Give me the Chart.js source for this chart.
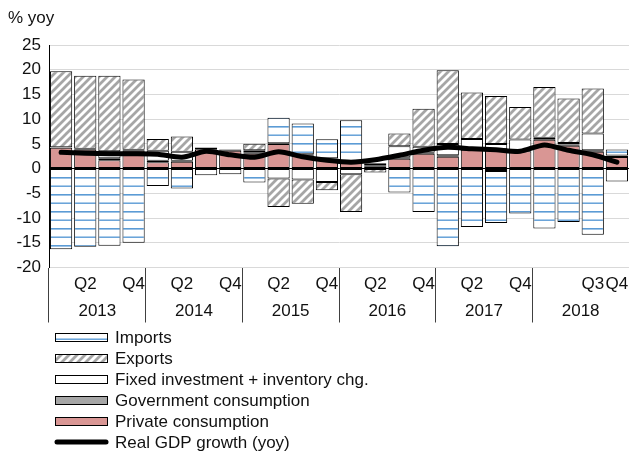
<!DOCTYPE html>
<html>
<head>
<meta charset="utf-8">
<script src="https://cdn.jsdelivr.net/npm/chart.js@4.4.1/dist/chart.umd.min.js"></script>
<style>
  html, body { margin: 0; padding: 0; background: #fff; }
  canvas { display: block; }
</style>
</head>
<body>
<canvas id="chart" width="629" height="457"></canvas>
<script>
// quarter labels (only some are shown, like the original) and year groups
const quarterLabels = ['', 'Q2', '', 'Q4', '', 'Q2', '', 'Q4', '', 'Q2', '', 'Q4',
                       '', 'Q2', '', 'Q4', '', 'Q2', '', 'Q4', '', '', 'Q3', 'Q4'];
const yearLabels = ['2013', '2014', '2015', '2016', '2017', '2018'];

// contributions to growth, % pts
const privateCons = [4.2, 3.8, 1.7, 3.6, 1.3, 1.4, 3.9, 3.6, 3.0, 5.0, 2.7, 2.0,
                     1.5, 0.5, 2.0, 3.0, 2.4, 3.8, 3.9, 3.5, 5.85, 4.6, 3.4, 2.35];
const govCons = [0.1, 0.2, 0.4, 0.2, 0.3, 0.2, 0.35, 0.25, 0.3, 0.15, 0.2, 0.1,
                 0.1, 0.2, 0.3, 0.2, 0.3, 0.2, -0.5, 0.2, 0.4, 0.3, 0.3, 0.3];
const fixedInv = [null, null, 1.4, null, 2.0, 1.8, null, null, 0.4, -2.0, -2.2, -2.7,
                  -1.15, null, 2.2, 1.2, 2.3, 2.0, 1.1, 2.2, null, 0.3, 3.4, -2.6];
const exportsC = [15.4, 14.8, 15.3, 14.2, 2.4, 3.1, null, null, 1.35, -5.75, -4.9, -1.7,
                  -7.65, -0.8, 2.6, 7.7, 14.9, 9.4, 9.7, 6.55, 10.25, 9.0, 9.1, null];
const importsC = [-16.3, -15.8, -15.6, -15.0, -3.5, -4.0, -1.35, -1.15, -2.8, 5.15, 6.2, 3.85,
                  8.2, 0.4, -4.85, -8.8, -15.7, -11.8, -10.5, -9.1, -12.1, -10.8, -13.4, 1.2];
const gdpGrowth = [3.3, 3.1, 3.0, 3.0, 2.9, 2.3, 3.5, 2.8, 2.3, 3.4, 2.4, 1.7,
                   1.3, 1.8, 2.7, 3.7, 4.3, 4.0, 3.8, 3.5, 4.8, 3.7, 2.8, 1.3];

const FONT = '"Liberation Sans", Arial, sans-serif';
const TXT = '#111';

const canvas = document.getElementById('chart');
const ctx = canvas.getContext('2d');

// diagonal hatch for exports
function hatchPattern() {
    const c = document.createElement('canvas');
    c.width = 8; c.height = 8;
    const g = c.getContext('2d');
    g.fillStyle = '#fff';
    g.fillRect(0, 0, 8, 8);
    g.strokeStyle = '#a6a6a6';
    g.lineWidth = 2.8;
    g.beginPath();
    g.moveTo(-2, 10); g.lineTo(10, -2);
    g.moveTo(-2, 2); g.lineTo(2, -2);
    g.moveTo(6, 10); g.lineTo(10, 6);
    g.stroke();
    return ctx.createPattern(c, 'repeat');
}

// white with blue horizontal lines for imports
function linePattern() {
    const c = document.createElement('canvas');
    c.width = 4; c.height = 17;
    const g = c.getContext('2d');
    g.fillStyle = '#fff';
    g.fillRect(0, 0, 4, 17);
    g.fillStyle = '#5b9bd5';
    g.fillRect(0, 7, 4, 1.6);
    g.fillRect(0, 15.5, 4, 1.4);
    return ctx.createPattern(c, 'repeat');
}

const barBase = {
    type: 'bar',
    borderColor: '#000',
    borderWidth: 1,
    borderSkipped: false,
    barPercentage: 0.92,
    categoryPercentage: 1.0,
    order: 1
};

// title + legend drawn by hand (vertical list at the bottom)
const extras = {
    id: 'extras',
    afterDraw(chart) {
        const c = chart.ctx;
        c.save();
        c.font = '17px ' + FONT;
        c.fillStyle = TXT;
        c.textBaseline = 'middle';
        c.textAlign = 'left';
        c.fillText('% yoy', 8, 18);

        const ds = chart.data.datasets;
        const items = [ds[4], ds[3], ds[2], ds[1], ds[0], ds[5]];
        items.forEach((d, i) => {
            const y = 337 + i * 21;
            if (d.type === 'line') {
                c.strokeStyle = '#000';
                c.lineWidth = 5;
                c.lineCap = 'round';
                c.beginPath();
                c.moveTo(57, y);
                c.lineTo(106, y);
                c.stroke();
            } else {
                c.fillStyle = d.backgroundColor;
                c.fillRect(55, y - 4, 53, 8);
                c.strokeStyle = '#000';
                c.lineWidth = 1;
                c.strokeRect(55.5, y - 3.5, 52, 8);
            }
            c.fillStyle = TXT;
            c.fillText(d.label, 115, y + 1);
        });
        c.restore();
    }
};

new Chart(ctx, {
    data: {
        labels: quarterLabels,
        datasets: [
            { ...barBase, label: 'Private consumption', data: privateCons, backgroundColor: '#d99694' },
            { ...barBase, label: 'Government consumption', data: govCons, backgroundColor: '#a6a6a6' },
            { ...barBase, label: 'Fixed investment + inventory chg.', data: fixedInv, backgroundColor: '#ffffff' },
            { ...barBase, label: 'Exports', data: exportsC, backgroundColor: hatchPattern() },
            { ...barBase, label: 'Imports', data: importsC, backgroundColor: linePattern() },
            {
                type: 'line',
                label: 'Real GDP growth (yoy)',
                data: gdpGrowth,
                borderColor: '#000',
                borderWidth: 5,
                borderCapStyle: 'round',
                borderJoinStyle: 'round',
                pointRadius: 0,
                tension: 0.25,
                fill: false,
                order: 0
            }
        ]
    },
    options: {
        responsive: false,
        animation: false,
        layout: { padding: { top: 45, right: 0, bottom: 132.5, left: 0 } },
        plugins: {
            legend: { display: false },
            tooltip: { enabled: false }
        },
        scales: {
            x: {
                stacked: true,
                offset: true,
                weight: 0,
                border: { display: false },
                grid: {
                    offset: true,
                    drawOnChartArea: false,
                    tickLength: 55,
                    lineWidth: 1,
                    color: (c) => (c.index % 4 === 0 ? '#404040' : 'rgba(0,0,0,0)'),
                    tickColor: (c) => (c.index % 4 === 0 ? '#404040' : 'rgba(0,0,0,0)')
                },
                ticks: {
                    autoSkip: false,
                    maxRotation: 0,
                    padding: -48,
                    color: TXT,
                    font: { family: FONT, size: 17 }
                },
                afterFit: (s) => { s.height = 27; }
            },
            x2: {
                type: 'category',
                labels: yearLabels,
                position: 'bottom',
                offset: true,
                weight: 1,
                border: { display: false },
                grid: { display: false },
                ticks: {
                    padding: -1,
                    maxRotation: 0,
                    color: TXT,
                    font: { family: FONT, size: 17 }
                },
                afterFit: (s) => { s.height = 30; }
            },
            y: {
                stacked: true,
                min: -20,
                max: 25,
                border: { display: true, color: '#000', width: 1 },
                grid: {
                    drawTicks: false,
                    lineWidth: 1,
                    color: (c) => (c.tick && c.tick.value === 0 ? '#000' : '#d9d9d9')
                },
                ticks: {
                    stepSize: 5,
                    padding: 8,
                    color: TXT,
                    font: { family: FONT, size: 17 }
                },
                afterFit: (s) => { s.width = 49; }
            }
        }
    },
    plugins: [extras]
});
</script>
</body>
</html>
